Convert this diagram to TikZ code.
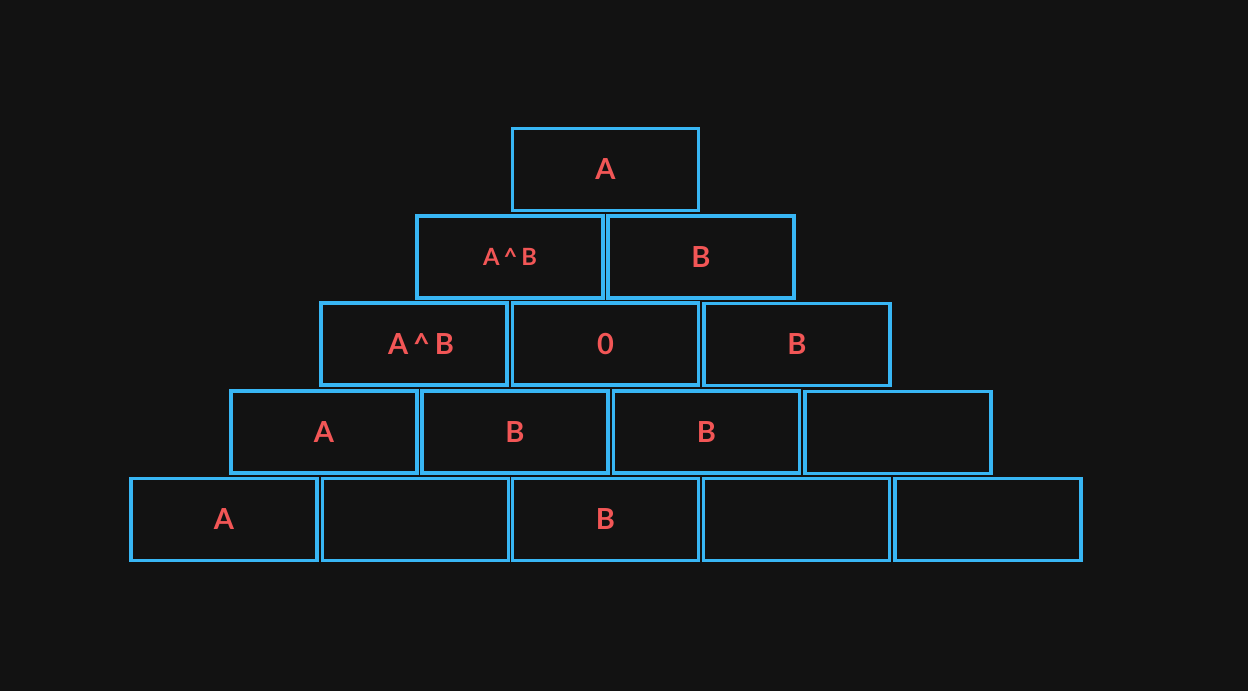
\documentclass[tikz,border=0pt]{standalone}
\usepackage{fontspec}
\setsansfont{Lato}[BoldFont={Lato Bold}]
\definecolor{bg}{HTML}{121212}
\definecolor{brickblue}{HTML}{38B6F4}
\definecolor{bitred}{HTML}{F25656}
\begin{document}
\begin{tikzpicture}[x=.02cm,y=-.02cm,
    brick/.style={draw=brickblue,line width=1.9pt,minimum width=3.72cm,minimum height=1.64cm,
      inner sep=0,text=bitred,font=\sffamily\bfseries\fontsize{16.5}{16.5}\selectfont},
    small/.style={font=\sffamily\bfseries\fontsize{13.5}{13.5}\selectfont}]
  \fill[bg] (0,0) rectangle (1248,691);
  \useasboundingbox (0,0) rectangle (1248,691);
  % top row
  \node[brick] (t1) at (605.5,169.5) {A};
  % second row
  \node[brick,small] (s1) at (510,257) {A\,\textasciicircum\,B};
  \node[brick] (s2) at (701,257) {B};
  % third row
  \node[brick] (m1) at (414,344) {\hspace{8pt}A\,\textasciicircum\,B};
  \node[brick] (m2) at (605.5,344) {0};
  \node[brick] (m3) at (797,344.5) {B};
  % fourth row
  \node[brick] (f1) at (324,432) {A};
  \node[brick] (f2) at (515,432) {B};
  \node[brick] (f3) at (706.5,432) {B};
  \node[brick] (f4) at (898,432.5) {};
  % bottom row
  \node[brick] (b1) at (224,519.5) {A};
  \node[brick] (b2) at (415.5,519.5) {};
  \node[brick] (b3) at (605.5,519.5) {B};
  \node[brick] (b4) at (796.5,519.5) {};
  \node[brick] (b5) at (988,519.5) {};
\end{tikzpicture}
\end{document}
